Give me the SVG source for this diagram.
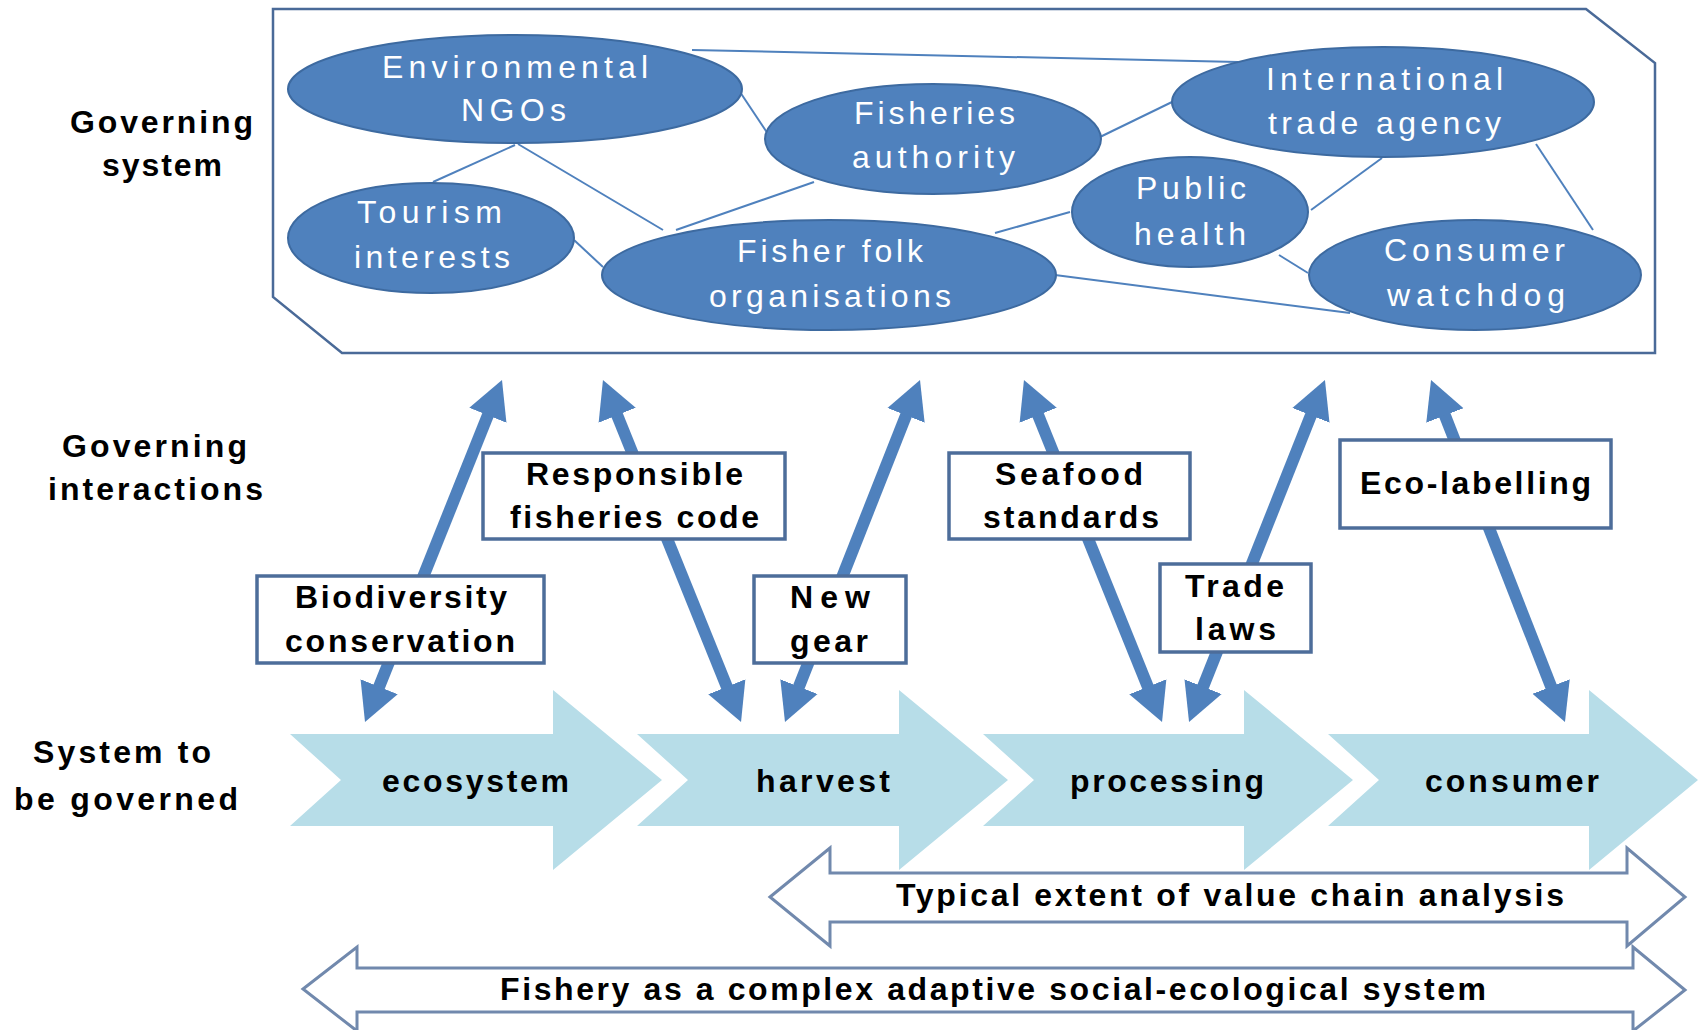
<svg xmlns="http://www.w3.org/2000/svg" width="1701" height="1030" viewBox="0 0 1701 1030">
<style>
.frame{fill:#fff;stroke:#4a6a98;stroke-width:2.5}
.ell{fill:#4f81bd;stroke:#3d6aa0;stroke-width:2}
.et{font-family:"Liberation Sans",Arial,sans-serif;font-size:32px;fill:#fff}
.lbl{font-family:"Liberation Sans",Arial,sans-serif;font-size:32px;font-weight:bold;fill:#000}
.box{fill:#fff;stroke:#4d6d9a;stroke-width:3.5}
.edge{stroke:#4f81bd;stroke-width:2;fill:none}
.ia{stroke:#4f81bd;stroke-width:12;marker-start:url(#ah);marker-end:url(#ah)}
.chev{fill:#b7dde8}
.span{fill:#fff;stroke:#7189ad;stroke-width:3}
</style>
<defs>
<marker id="ah" markerUnits="userSpaceOnUse" markerWidth="40" markerHeight="42" viewBox="0 -21 40 42" refX="20" refY="0" orient="auto-start-reverse">
<path d="M0,-20 L38,0 L0,20 Z" fill="#4f81bd"/>
</marker>
</defs>
<rect width="1701" height="1030" fill="#fff"/>

<g id="governing-system-frame">
<polygon class="frame" points="273,9 1586,9 1655,63 1655,353 342,353 273,297"/>
</g>

<g id="side-labels">
<text class="lbl" x="70" y="133" textLength="183" lengthAdjust="spacing">Governing</text>
<text class="lbl" x="102" y="176" textLength="120" lengthAdjust="spacing">system</text>
<text class="lbl" x="62" y="457" textLength="185" lengthAdjust="spacing">Governing</text>
<text class="lbl" x="48" y="500" textLength="215" lengthAdjust="spacing">interactions</text>
<text class="lbl" x="33" y="763" textLength="178" lengthAdjust="spacing">System to</text>
<text class="lbl" x="14" y="810" textLength="224" lengthAdjust="spacing">be governed</text>
</g>

<g id="connectors">
<line class="edge" x1="692" y1="50" x2="1238" y2="62"/>
<line class="edge" x1="740" y1="92" x2="770" y2="137"/>
<line class="edge" x1="515" y1="145" x2="433" y2="182"/>
<line class="edge" x1="518" y1="144" x2="663" y2="230"/>
<line class="edge" x1="574" y1="240" x2="603" y2="267"/>
<line class="edge" x1="814" y1="182" x2="676" y2="230"/>
<line class="edge" x1="995" y1="233" x2="1070" y2="212"/>
<line class="edge" x1="1100" y1="137" x2="1172" y2="102"/>
<line class="edge" x1="1311" y1="210" x2="1382" y2="158"/>
<line class="edge" x1="1536" y1="144" x2="1593" y2="230"/>
<line class="edge" x1="1279" y1="255" x2="1308" y2="273"/>
<line class="edge" x1="1055" y1="275" x2="1350" y2="313"/>
<line class="ia" x1="495.3" y1="396.7" x2="371.7" y2="705.3"/>
<line class="ia" x1="609.7" y1="396.7" x2="734.3" y2="705.3"/>
<line class="ia" x1="913.4" y1="396.7" x2="791.6" y2="705.3"/>
<line class="ia" x1="1030.7" y1="396.7" x2="1155.3" y2="705.3"/>
<line class="ia" x1="1318.3" y1="396.7" x2="1195.7" y2="705.3"/>
<line class="ia" x1="1437.6" y1="396.8" x2="1558.4" y2="705.2"/>
</g>

<g id="environmental-ngos">
<ellipse class="ell" cx="515" cy="89" rx="227" ry="54"/>
<text class="et" x="382" y="78" textLength="266" lengthAdjust="spacing">Environmental</text>
<text class="et" x="461" y="121" textLength="105" lengthAdjust="spacing">NGOs</text>
</g>
<g id="fisheries-authority">
<ellipse class="ell" cx="933" cy="139" rx="168" ry="55"/>
<text class="et" x="854" y="124" textLength="161" lengthAdjust="spacing">Fisheries</text>
<text class="et" x="852" y="168" textLength="163" lengthAdjust="spacing">authority</text>
</g>
<g id="tourism-interests">
<ellipse class="ell" cx="431" cy="238" rx="143" ry="55"/>
<text class="et" x="357" y="223" textLength="145" lengthAdjust="spacing">Tourism</text>
<text class="et" x="354" y="268" textLength="156" lengthAdjust="spacing">interests</text>
</g>
<g id="fisher-folk-organisations">
<ellipse class="ell" cx="829" cy="275" rx="227" ry="55"/>
<text class="et" x="737" y="262" textLength="186" lengthAdjust="spacing">Fisher folk</text>
<text class="et" x="709" y="307" textLength="242" lengthAdjust="spacing">organisations</text>
</g>
<g id="international-trade-agency">
<ellipse class="ell" cx="1383" cy="102" rx="211" ry="55"/>
<text class="et" x="1266" y="90" textLength="237" lengthAdjust="spacing">International</text>
<text class="et" x="1268" y="134" textLength="233" lengthAdjust="spacing">trade agency</text>
</g>
<g id="public-health">
<ellipse class="ell" cx="1190" cy="212" rx="118" ry="55"/>
<text class="et" x="1136" y="199" textLength="110" lengthAdjust="spacing">Public</text>
<text class="et" x="1134" y="245" textLength="112" lengthAdjust="spacing">health</text>
</g>
<g id="consumer-watchdog">
<ellipse class="ell" cx="1475" cy="275" rx="166" ry="55"/>
<text class="et" x="1384" y="261" textLength="181" lengthAdjust="spacing">Consumer</text>
<text class="et" x="1387" y="306" textLength="178" lengthAdjust="spacing">watchdog</text>
</g>

<g id="biodiversity-conservation">
<rect class="box" x="257" y="576" width="287" height="87"/>
<text class="lbl" x="295" y="608" textLength="212" lengthAdjust="spacing">Biodiversity</text>
<text class="lbl" x="285" y="652" textLength="230" lengthAdjust="spacing">conservation</text>
</g>
<g id="responsible-fisheries-code">
<rect class="box" x="483" y="453" width="302" height="86"/>
<text class="lbl" x="526" y="485" textLength="217" lengthAdjust="spacing">Responsible</text>
<text class="lbl" x="510" y="528" textLength="249" lengthAdjust="spacing">fisheries code</text>
</g>
<g id="new-gear">
<rect class="box" x="754" y="576" width="152" height="87"/>
<text class="lbl" x="790" y="608" textLength="80" lengthAdjust="spacing">New</text>
<text class="lbl" x="790" y="652" textLength="78" lengthAdjust="spacing">gear</text>
</g>
<g id="seafood-standards">
<rect class="box" x="949" y="453" width="241" height="86"/>
<text class="lbl" x="995" y="485" textLength="148" lengthAdjust="spacing">Seafood</text>
<text class="lbl" x="983" y="528" textLength="176" lengthAdjust="spacing">standards</text>
</g>
<g id="trade-laws">
<rect class="box" x="1160" y="564" width="151" height="88"/>
<text class="lbl" x="1185" y="597" textLength="99" lengthAdjust="spacing">Trade</text>
<text class="lbl" x="1195" y="640" textLength="81" lengthAdjust="spacing">laws</text>
</g>
<g id="eco-labelling">
<rect class="box" x="1340" y="440" width="271" height="88"/>
<text class="lbl" x="1360" y="494" textLength="231" lengthAdjust="spacing">Eco-labelling</text>
</g>

<g id="ecosystem">
<polygon class="chev" points="290,734 553,734 553,690 662,780 553,870 553,826 290,826 341,780"/>
<text class="lbl" x="382" y="792" textLength="187" lengthAdjust="spacing">ecosystem</text>
</g>
<g id="harvest">
<polygon class="chev" points="637,734 899,734 899,690 1008,780 899,870 899,826 637,826 688,780"/>
<text class="lbl" x="756" y="792" textLength="134" lengthAdjust="spacing">harvest</text>
</g>
<g id="processing">
<polygon class="chev" points="983,734 1244,734 1244,690 1353,780 1244,870 1244,826 983,826 1034,780"/>
<text class="lbl" x="1070" y="792" textLength="194" lengthAdjust="spacing">processing</text>
</g>
<g id="consumer">
<polygon class="chev" points="1328,734 1589,734 1589,690 1698,780 1589,870 1589,826 1328,826 1379,780"/>
<text class="lbl" x="1425" y="792" textLength="174" lengthAdjust="spacing">consumer</text>
</g>

<g id="value-chain-extent">
<polygon class="span" points="770,897 830,848 830,873 1627,873 1627,848 1685,897 1627,946 1627,922 830,922 830,946"/>
<text class="lbl" x="896" y="906" textLength="668" lengthAdjust="spacing">Typical extent of value chain analysis</text>
</g>
<g id="fishery-extent">
<polygon class="span" points="303,989 357,947 357,968 1633,968 1633,947 1685,990 1633,1031 1633,1012 357,1012 357,1031"/>
<text class="lbl" x="500" y="1000" textLength="986" lengthAdjust="spacing">Fishery as a complex adaptive social-ecological system</text>
</g>
</svg>
